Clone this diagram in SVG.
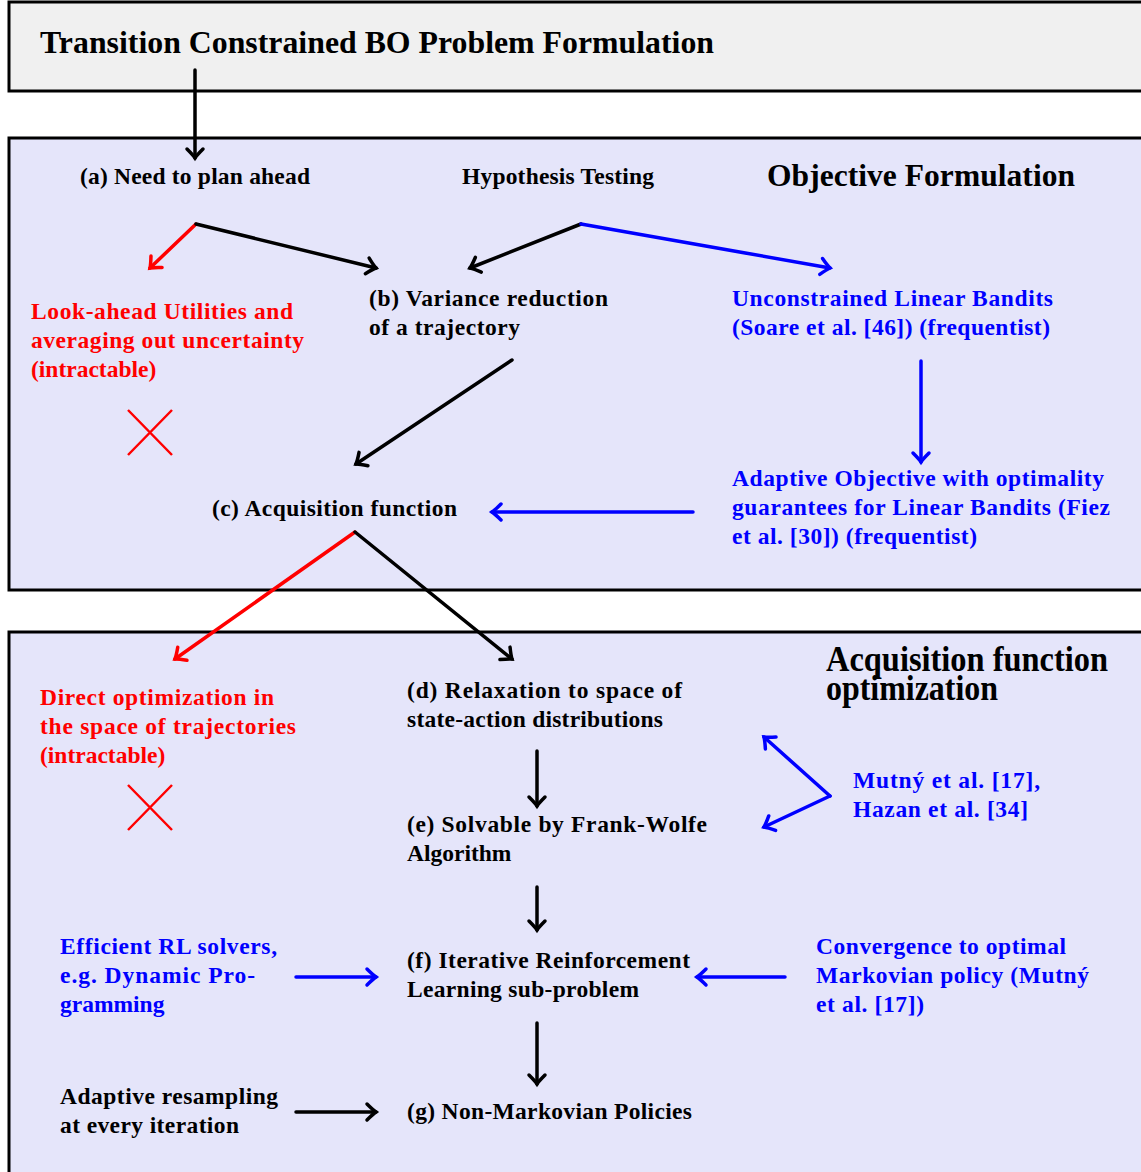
<svg xmlns="http://www.w3.org/2000/svg" width="1141" height="1172" viewBox="0 0 1141 1172">
<style>
.t{font-family:"Liberation Serif","Times New Roman",serif;font-weight:bold;font-size:23.5px;fill:#000}
.h{font-family:"Liberation Serif","Times New Roman",serif;font-weight:bold;font-size:31.5px;fill:#000}
.h2{font-family:"Liberation Serif","Times New Roman",serif;font-weight:bold;font-size:36px;fill:#000}
.r{fill:#ff0000}
.b{fill:#0000ff}
.box{stroke:#000;stroke-width:3}
.k{stroke:#000;stroke-width:3.5;fill:none;stroke-linecap:round}
.kr{stroke:#ff0000;stroke-width:3.5;fill:none;stroke-linecap:round}
.kb{stroke:#0000ff;stroke-width:3.5;fill:none;stroke-linecap:round}
.x{stroke:#ff0000;stroke-width:2.5;fill:none}
</style>
<defs>
<marker id="ak" markerUnits="userSpaceOnUse" viewBox="-12 -10 14 20" markerWidth="14" markerHeight="20" refX="0" refY="0" orient="auto" overflow="visible">
<path d="M-9,-8 Q-3,-2 0,0 Q-3,2 -9,8" fill="none" stroke="#000" stroke-width="3.5" stroke-linecap="round"/>
</marker>
<marker id="ar" markerUnits="userSpaceOnUse" viewBox="-12 -10 14 20" markerWidth="14" markerHeight="20" refX="0" refY="0" orient="auto" overflow="visible">
<path d="M-9,-8 Q-3,-2 0,0 Q-3,2 -9,8" fill="none" stroke="#ff0000" stroke-width="3.5" stroke-linecap="round"/>
</marker>
<marker id="ab" markerUnits="userSpaceOnUse" viewBox="-12 -10 14 20" markerWidth="14" markerHeight="20" refX="0" refY="0" orient="auto" overflow="visible">
<path d="M-9,-8 Q-3,-2 0,0 Q-3,2 -9,8" fill="none" stroke="#0000ff" stroke-width="3.5" stroke-linecap="round"/>
</marker>
</defs>
<rect width="1141" height="1172" fill="#ffffff"/>

<g id="box-top">
<rect class="box" x="9" y="2" width="1140" height="89" fill="#f0f0f0"/>
<text class="h" x="40" y="53" textLength="674" lengthAdjust="spacingAndGlyphs">Transition Constrained BO Problem Formulation</text>
</g>
<g id="box-objective">
<rect class="box" x="9" y="138" width="1140" height="452" fill="#e5e5fa"/>
<text class="h" x="767" y="186" textLength="308">Objective Formulation</text>
</g>
<g id="box-acq">
<rect class="box" x="9" y="632" width="1140" height="545" fill="#e5e5fa"/>
<text class="h2" x="826" y="671" textLength="282" lengthAdjust="spacingAndGlyphs">Acquisition function</text>
<text class="h2" x="826" y="700" textLength="172" lengthAdjust="spacingAndGlyphs">optimization</text>
</g>

<g id="node-a"><text class="t" x="80" y="184" textLength="230">(a) Need to plan ahead</text></g>
<g id="node-hyp"><text class="t" x="462" y="184" textLength="192">Hypothesis Testing</text></g>
<g id="node-lookahead">
<text class="t r" x="31" y="319" textLength="262">Look-ahead Utilities and</text>
<text class="t r" x="31" y="348" textLength="273">averaging out uncertainty</text>
<text class="t r" x="31" y="377">(intractable)</text>
<path class="x" d="M128,410 L172,455 M172,410 L128,455"/>
</g>
<g id="node-b">
<text class="t" x="369" y="306" textLength="239">(b) Variance reduction</text>
<text class="t" x="369" y="335" textLength="151">of a trajectory</text>
</g>
<g id="node-ulb">
<text class="t b" x="732" y="306" textLength="321">Unconstrained Linear Bandits</text>
<text class="t b" x="732" y="335" textLength="318">(Soare et al. [46]) (frequentist)</text>
</g>
<g id="node-c"><text class="t" x="212" y="516" textLength="245">(c) Acquisition function</text></g>
<g id="node-adaptive-obj">
<text class="t b" x="732" y="486" textLength="372">Adaptive Objective with optimality</text>
<text class="t b" x="732" y="515" textLength="378">guarantees for Linear Bandits (Fiez</text>
<text class="t b" x="732" y="544" textLength="245">et al. [30]) (frequentist)</text>
</g>
<g id="node-direct">
<text class="t r" x="40" y="705" textLength="234">Direct optimization in</text>
<text class="t r" x="40" y="734" textLength="256">the space of trajectories</text>
<text class="t r" x="40" y="763">(intractable)</text>
<path class="x" d="M128,785 L172,830 M172,785 L128,830"/>
</g>
<g id="node-d">
<text class="t" x="407" y="698" textLength="275">(d) Relaxation to space of</text>
<text class="t" x="407" y="727" textLength="256">state-action distributions</text>
</g>
<g id="node-e">
<text class="t" x="407" y="832" textLength="300">(e) Solvable by Frank-Wolfe</text>
<text class="t" x="407" y="861">Algorithm</text>
</g>
<g id="node-mutny">
<text class="t b" x="853" y="788" textLength="187">Mutný et al. [17],</text>
<text class="t b" x="853" y="817" textLength="175">Hazan et al. [34]</text>
</g>
<g id="node-rl">
<text class="t b" x="60" y="954" textLength="217">Efficient RL solvers,</text>
<text class="t b" x="60" y="983" textLength="195">e.g. Dynamic Pro-</text>
<text class="t b" x="60" y="1012">gramming</text>
</g>
<g id="node-f">
<text class="t" x="407" y="968" textLength="283">(f) Iterative Reinforcement</text>
<text class="t" x="407" y="997" textLength="232">Learning sub-problem</text>
</g>
<g id="node-conv">
<text class="t b" x="816" y="954" textLength="250">Convergence to optimal</text>
<text class="t b" x="816" y="983" textLength="273">Markovian policy (Mutný</text>
<text class="t b" x="816" y="1012" textLength="108">et al. [17])</text>
</g>
<g id="node-resample">
<text class="t" x="60" y="1104" textLength="218">Adaptive resampling</text>
<text class="t" x="60" y="1133" textLength="179">at every iteration</text>
</g>
<g id="node-g"><text class="t" x="407" y="1119" textLength="285">(g) Non-Markovian Policies</text></g>

<g id="connectors">
<line class="k" x1="195" y1="70" x2="195" y2="158" marker-end="url(#ak)"/>
<line class="kr" x1="196" y1="224" x2="150" y2="268" marker-end="url(#ar)"/>
<line class="k" x1="196" y1="224" x2="376" y2="268" marker-end="url(#ak)"/>
<line class="k" x1="581" y1="224" x2="470" y2="268" marker-end="url(#ak)"/>
<line class="kb" x1="581" y1="224" x2="830" y2="268" marker-end="url(#ab)"/>
<line class="k" x1="512" y1="360" x2="356" y2="464" marker-end="url(#ak)"/>
<line class="kb" x1="921" y1="361" x2="921" y2="462" marker-end="url(#ab)"/>
<line class="kb" x1="693" y1="512" x2="492" y2="512" marker-end="url(#ab)"/>
<line class="kr" x1="355" y1="532" x2="175" y2="659" marker-end="url(#ar)"/>
<line class="k" x1="355" y1="532" x2="512" y2="659" marker-end="url(#ak)"/>
<line class="k" x1="537" y1="751" x2="537" y2="806" marker-end="url(#ak)"/>
<line class="kb" x1="830" y1="796" x2="764" y2="737" marker-end="url(#ab)"/>
<line class="kb" x1="830" y1="796" x2="764" y2="827" marker-end="url(#ab)"/>
<line class="k" x1="537" y1="887" x2="537" y2="930" marker-end="url(#ak)"/>
<line class="kb" x1="296" y1="977" x2="376" y2="977" stroke-width="5" marker-end="url(#ab)"/>
<line class="kb" x1="785" y1="977" x2="697" y2="977" stroke-width="5" marker-end="url(#ab)"/>
<line class="k" x1="537" y1="1023" x2="537" y2="1084" marker-end="url(#ak)"/>
<line class="k" x1="296" y1="1112" x2="376" y2="1112" stroke-width="5" marker-end="url(#ak)"/>
</g>
</svg>
